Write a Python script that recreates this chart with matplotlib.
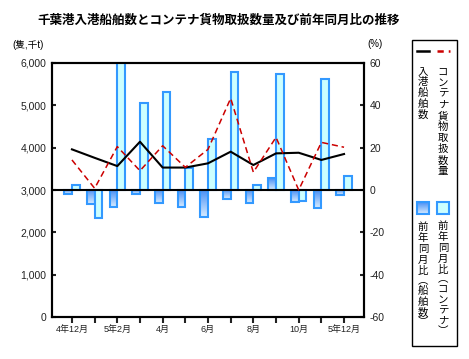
import numpy as np
import matplotlib.pyplot as plt
from matplotlib.colors import LinearSegmentedColormap
from matplotlib.patches import Rectangle
from matplotlib.lines import Line2D

plt.rcParams['font.family'] = ['Liberation Sans', 'Noto Sans CJK JP', 'DejaVu Sans']
plt.rcParams['axes.unicode_minus'] = False

# data
months = ['4年12月', '', '5年2月', '', '4月', '', '6月', '', '8月', '', '10月', '', '5年12月']
ships = [3960, 3760, 3565, 4140, 3530, 3530, 3630, 3905, 3590, 3865, 3880, 3710, 3850]
cargo = [3710, 3040, 4025, 3455, 4045, 3535, 3960, 5165, 3420, 4245, 3000, 4125, 4010]
ships_yoy = [-1.9, -6.8, -7.9, -1.9, -6.3, -7.9, -12.6, -4.3, -6.3, 5.5, -5.5, -8.5, -2.4]
cargo_yoy = [2.4, -13.4, 59.8, 41.0, 46.5, 10.5, 23.9, 55.9, 2.4, 54.8, -5.2, 52.3, 6.8]

title = '千葉港入港船舶数とコンテナ貨物取扱数量及び前年同月比の推移'

edge = '#3399FF'
grad_cmap = LinearSegmentedColormap.from_list('g', ['#4A90F5', '#D8ECFF'])
grad = np.linspace(0, 1, 64).reshape(-1, 1)

W, H = 469, 359
fig = plt.figure(figsize=(W / 100, H / 100), dpi=100)

ax = fig.add_axes([52 / W, 1 - 317 / H, 312 / W, 254 / H])
ax2 = ax.twinx()
ax.set_zorder(ax2.get_zorder() + 1)
ax.patch.set_visible(False)

x = np.arange(len(months))

# year-on-year bars (right axis)
sb = ax2.bar(x - 0.17, ships_yoy, width=0.34, color='none', edgecolor=edge, linewidth=1.5, zorder=3)
for p in sb:
    x0, w = p.get_x(), p.get_width()
    y0, y1 = sorted([p.get_y(), p.get_y() + p.get_height()])
    im = ax2.imshow(grad, extent=[x0, x0 + w, y0, y1], aspect='auto', cmap=grad_cmap,
                    origin='upper', zorder=2)
    im.set_clip_path(p)
ax2.bar(x + 0.17, cargo_yoy, width=0.34, color='#CCFFFF', edgecolor=edge, linewidth=1.5, zorder=3)

# counts (left axis)
ax.axhline(3000, color='black', lw=1.5)
ax.plot(x, ships, color='black', lw=1.5)
ax.plot(x, cargo, color='#CC0000', lw=1.1, ls=(0, (4, 2.5)))

ax.set_xlim(-0.88, len(months) - 1 + 0.88)
ax.set_ylim(0, 6000)
ax2.set_ylim(-60, 60)

ax.set_yticks(range(0, 6001, 1000))
ax.set_yticklabels([f'{v:,}' for v in range(0, 6001, 1000)])
ax2.set_yticks(range(-60, 61, 20))
ax.set_xticks(x)
ax.set_xticklabels(months)

ax.tick_params(axis='y', direction='in', length=3, width=1.5, labelsize=7.5, pad=4, colors='#222222')
ax2.tick_params(axis='y', direction='in', length=3, width=1.5, labelsize=7.5, pad=4, colors='#222222')
ax.tick_params(axis='x', direction='out', length=4, width=1.5, labelsize=6.5, pad=2, colors='#222222')
for a in (ax, ax2):
    for s in a.spines.values():
        s.set_linewidth(1.5)
        s.set_color('black')

fig.text(219 / W, 1 - 21 / H, title, ha='center', va='center', fontsize=9, fontweight='bold')
fig.text(12 / W, 1 - 45 / H, '(隻,千t)', ha='left', va='center', fontsize=7)
fig.text(375 / W, 1 - 44 / H, '(%)', ha='center', va='center', fontsize=7)

# legend box drawn in pixel coordinates
lax = fig.add_axes([0, 0, 1, 1])
lax.set_xlim(0, W)
lax.set_ylim(H, 0)
lax.axis('off')
lax.add_patch(Rectangle((412, 40), 45, 306, fill=False, ec='black', lw=1))
lax.add_line(Line2D([417, 429], [51, 51], color='black', lw=1.8))
lax.add_line(Line2D([437, 450], [51, 51], color='#CC0000', lw=1.8, ls=(0, (2.5, 2))))

def vtext(xc, ytop, s, step=11.0):
    y = ytop
    for ch in s:
        h = step * 0.7 if ch in '︵︶' else step
        lax.text(xc, y + h / 2, ch, ha='center', va='center', fontsize=7.5)
        y += h

vtext(423, 66, '入港船舶数', 10.8)
vtext(443, 66, 'コンテナ貨物取扱数量', 11.1)

p1 = Rectangle((417, 202), 12, 12, fc='none', ec=edge, lw=1.5, zorder=3)
lax.add_patch(p1)
im = lax.imshow(grad, extent=[417, 429, 214, 202], aspect='auto', cmap=grad_cmap, origin='upper', zorder=2)
im.set_clip_path(p1)
lax.add_patch(Rectangle((437, 202), 12, 12, fc='#CCFFFF', ec=edge, lw=1.5, zorder=3))
lax.set_xlim(0, W)
lax.set_ylim(H, 0)

vtext(423, 221, '前年同月比︵船舶数︶', 11.2)
vtext(443, 221, '前年同月比︵コンテナ︶', 10.9)

fig.savefig('out.png', dpi=100)
